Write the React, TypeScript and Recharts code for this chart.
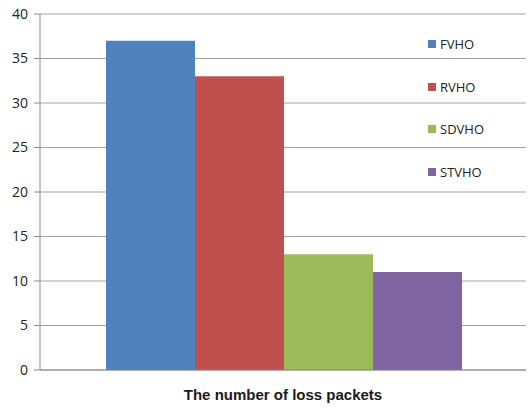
import React from 'react';
import { BarChart, Bar, XAxis, YAxis, CartesianGrid } from 'recharts';

// values
const category = 'The number of loss packets';
const seriesNames = ['FVHO', 'RVHO', 'SDVHO', 'STVHO'];
const seriesValues = [37, 33, 13, 11];
const seriesColors = ['#4F81BD', '#C0504D', '#9BBB59', '#8064A2'];
const yTicks = [0, 5, 10, 15, 20, 25, 30, 35, 40];

const row: Record<string, string | number> = { name: category };
seriesNames.forEach((n, i) => {
    row[n] = seriesValues[i];
});
const data = [row];

const CategoryTick = (props: any) => {
    const { x, y, payload } = props;
    return (
        <text
            x={x}
            y={y + 22}
            textAnchor="middle"
            fill="#1a1a1a"
            fontSize={15}
            fontWeight="bold"
            fontFamily="'Liberation Sans Narrow', 'Liberation Sans', Arial, sans-serif"
        >
            {payload.value}
        </text>
    );
};

export default function App() {
    return (
        <div style={{ position: 'relative', width: 528, height: 410, background: '#fff' }}>
            <style>{`body{margin:0}`}</style>
            <BarChart
                width={528}
                height={410}
                data={data}
                margin={{ top: 14, right: 2, left: 0, bottom: 0 }}
                barCategoryGap={66}
                barGap={0}
            >
                <CartesianGrid vertical={false} stroke="#a3a3a3" strokeWidth={1.2} />
                <XAxis
                    dataKey="name"
                    height={40}
                    axisLine={{ stroke: '#8a8a8a' }}
                    tickLine={false}
                    tick={<CategoryTick />}
                />
                <YAxis
                    domain={[0, 40]}
                    ticks={yTicks}
                    width={40}
                    tickSize={6}
                    tickMargin={6}
                    axisLine={{ stroke: '#8a8a8a' }}
                    tickLine={{ stroke: '#8a8a8a' }}
                    tick={{ fill: '#222', fontSize: 14, fontFamily: "'Open Sans', 'Noto Sans', sans-serif" }}
                />
                {seriesNames.map((n, i) => (
                    <Bar key={n} dataKey={n} fill={seriesColors[i]} isAnimationActive={false} />
                ))}
            </BarChart>
            {/* legend sits over the plot, between the grid lines */}
            <div
                style={{
                    position: 'absolute',
                    top: 23,
                    left: 428,
                    fontFamily: "'Open Sans', 'Noto Sans', sans-serif",
                    fontSize: 13,
                    color: '#222',
                }}
            >
                {seriesNames.map((n, i) => (
                    <div key={n} style={{ display: 'flex', alignItems: 'center', height: 42.5 }}>
                        <span style={{ width: 8, height: 8, background: seriesColors[i], display: 'inline-block', marginRight: 4 }} />
                        <span>{n}</span>
                    </div>
                ))}
            </div>
        </div>
    );
}
